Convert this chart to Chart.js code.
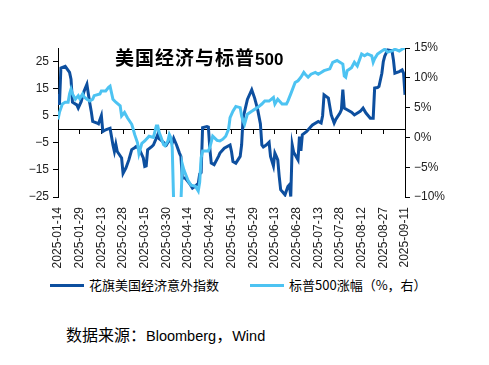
<!DOCTYPE html>
<html>
<head>
<meta charset="utf-8">
<script src="https://cdn.jsdelivr.net/npm/chart.js@4.4.1/dist/chart.umd.min.js"></script>
<style>
  body { margin: 0; background: #fff; }
  #wrap { position: relative; width: 489px; height: 365px; overflow: hidden; }
  #chart { position: absolute; left: 0; top: 0; }
  #title { position: absolute; left: 115px; top: 47px; font-weight: bold; color: #000; white-space: nowrap; line-height: 20px; }
  #title .cn { font-family: "Noto Sans CJK SC"; font-size: 19px; letter-spacing: 1px; }
  #title .num { font-family: "Liberation Sans", Arial; font-size: 17px; }
  .leg { position: absolute; top: 276px; height: 18px; white-space: nowrap; font-family: "Noto Sans CJK SC"; font-size: 13px; line-height: 18px; color: #000; }
  .leg i { display: inline-block; width: 34px; height: 3px; vertical-align: middle; margin-right: 5px; margin-top: -2px; }
  #source { position: absolute; left: 66px; top: 323px; white-space: nowrap; color: #000; line-height: 22px; }
  #source .cn { font-family: "Noto Sans CJK SC"; font-size: 16px; }
  #source .en { font-family: "Liberation Sans", Arial; font-size: 14.5px; }
</style>
</head>
<body>
<div id="wrap">
  <canvas id="chart" width="489" height="275"></canvas>
  <div id="title"><span class="cn">美国经济与标普</span><span class="num">500</span></div>
  <div class="leg" id="leg0" style="left:50px"></div>
  <div class="leg" id="leg1" style="left:250px"></div>
  <div id="source"><span class="cn">数据来源：</span><span class="en">Bloomberg</span><span class="cn">，</span><span class="en">Wind</span></div>
</div>
<script>
// days counted from 2025-01-14
const xTickLabels = ['2025-01-14', '2025-01-29', '2025-02-13', '2025-02-28', '2025-03-15', '2025-03-30',
  '2025-04-14', '2025-04-29', '2025-05-14', '2025-05-29', '2025-06-13', '2025-06-28', '2025-07-13',
  '2025-07-28', '2025-08-12', '2025-08-27', '2025-09-11'];
const leftTicks = [-25, -15, -5, 5, 15, 25];
const seriesNames = ['花旗美国经济意外指数', '标普500涨幅（%，右）'];

// 花旗美国经济意外指数 (left axis)
const citiDays = [0, 1, 2, 5, 8, 9, 10, 13, 14, 15, 16, 18, 20, 21, 22, 23, 24, 27, 28, 30, 31, 33, 36, 37,
  38, 39, 40, 41, 44, 45, 47, 49, 51, 53, 54, 56, 58, 59, 60, 61, 62, 65, 66, 68, 69, 70, 71, 73, 75, 77,
  79, 80, 82, 84, 85, 86, 88, 91, 93, 95, 97, 98, 99, 100, 103, 104, 105, 106, 108, 111, 112, 115, 119,
  120, 121, 123, 126, 127, 128, 131, 134, 136, 138, 140, 141, 142, 144, 146, 147, 149, 150, 151, 152, 153,
  154, 157, 159, 160, 161, 162, 163, 166, 167, 168, 169, 172, 175, 176, 180, 182, 183, 184, 187, 189, 191,
  192, 195, 196, 197, 198, 200, 203, 205, 209, 211, 213, 216, 218, 219, 221, 222, 224, 225, 226, 228, 231,
  232, 233, 236, 238, 239, 240];
const citiVals = [13, 9, 22.6, 23.2, 21, 18.5, 10, 9, 7.8, 9, 10.2, 14, 16.6, 13, 9.6, 6.6, 2.9, 2.3, 2.0,
  5, -0.8, -0.2, 0.4, -2.7, -5.8, -8.2, -5.5, -8.2, -10.6, -16.3, -14.3, -11.3, -7.5, -6.8, -6.4, -7, -9.4,
  -10.6, -13.7, -13.5, -7.6, -6.3, -5.8, -3.3, -2.0, -3.5, -3.9, -4.8, -5.8, -4, -5, -3.3, -5.8, -8.8, -10,
  -18, -18, -20, -21.7, -21, -20, -16.5, -16, 0.6, 1.0, 0.8, -7, -12.5, -13.1, -10, -8.8, -7, -5.8, -8.2,
  -11.9, -12.5, -10, -5.8, 4.1, 11, 14.6, 11.5, 7.5, 2, -5.8, -6.5, -5.8, -4.8, -10, -13.5, -8.8, -10,
  -11.3, -17.4, -22.3, -24.2, -21.1, -20.5, -24.8, -5.8, -8.5, -11.3, -2.7, -8, -2.0, -0.8, 1.0, 1.6, 2.9,
  2.3, 5, 12.7, 11.5, 5.3, 2.3, 3.5, 6, 7.2, 14.6, 7.8, 7.2, 6.3, 5.3, 6.6, 7.8, 6, 4.1, 4.1, 15.2, 15.4,
  15.8, 20.7, 25, 27, 29.3, 29, 25.6, 20.7, 21.3, 21.9, 20.7, 12.7];

// 标普500涨幅 (%, right axis)
const spxDays = [0, 1, 3, 5, 7, 8, 9, 10, 12, 14, 15, 17, 18, 20, 22, 24, 25, 29, 30, 33, 35, 36, 38, 40,
  43, 44, 46, 48, 51, 52, 53, 55, 56, 58, 60, 63, 66, 68, 69, 70, 71, 73, 74, 76, 77, 78, 79, 80, 81, 82,
  84, 85, 86, 87, 90, 92, 95, 97, 98, 99, 100, 104, 105, 107, 110, 112, 114, 116, 118, 119, 121, 123, 126,
  127, 128, 129, 131, 134, 136, 138, 141, 143, 146, 149, 150, 152, 155, 158, 159, 161, 164, 166, 168, 170,
  171, 173, 175, 178, 180, 182, 184, 188, 190, 193, 195, 197, 198, 199, 200, 203, 205, 207, 210, 212, 214,
  217, 218, 219, 221, 224, 226, 228, 231, 233, 236, 238, 240];
const spxVals = [3.0, 4.2, 5.6, 5.9, 5.9, 7.3, 8.1, 7.3, 6.4, 7.0, 6.5, 7.3, 6.8, 6.4, 6.1, 6.4, 7.0, 7.3,
  7.8, 7.8, 8.4, 8.6, 6.4, 5.9, 5.3, 3.6, 4.2, 3.3, 2.2, 1.4, 0.5, -0.9, -2.7, -1.0, -0.6, 0.2, 0.0, 1.9,
  1.9, 0.8, 0.2, -1.2, -1.4, -0.6, 0.5, 0.0, -1.7, -11, -13, -12, -13.5, -11, -4.5, -5.4, -7.3, -8, -8.2,
  -9.0, -7.5, -3.4, -2.3, -2.3, -1.7, 0.2, -0.5, -0.6, -0.3, 0.2, 1.4, 3.3, 4.4, 5.2, 5.0, 3.6, 2.8, 2.2,
  3.9, 4.4, 4.7, 5.0, 5.6, 6.1, 6.1, 6.7, 5.6, 6.4, 5.6, 5.6, 6.1, 7.3, 9.2, 9.5, 10.1, 10.9, 10.6, 10.1,
  10.6, 10.9, 10.6, 10.9, 11.2, 11.5, 12.6, 12.9, 12.6, 12.3, 10.3, 10.1, 11.2, 11.7, 12.6, 12.0, 14.0,
  13.7, 14.0, 13.7, 12.6, 13.2, 14.0, 14.5, 14.8, 14.3, 14.5, 14.8, 14.5, 14.8, 15.0];

const darkBlue = '#0D4F9F';
const lightBlue = '#4DC3F2';
const tickFont = { family: '"Liberation Sans", Arial', size: 12 };

function toPoints(days, vals) {
  return days.map((d, i) => ({ x: d, y: vals[i] }));
}

function minusSign(s) {
  return String(s).replace('-', '\u2212');
}

// legend (html, so it can sit right under the date labels)
[darkBlue, lightBlue].forEach((c, i) => {
  const el = document.getElementById('leg' + i);
  el.innerHTML = '<i style="background:' + c + '"></i>' + seriesNames[i];
});

const ctx = document.getElementById('chart').getContext('2d');
new Chart(ctx, {
  type: 'line',
  data: {
    datasets: [
      {
        label: seriesNames[1],
        data: toPoints(spxDays, spxVals),
        yAxisID: 'y1',
        borderColor: lightBlue,
        borderWidth: 3,
        pointRadius: 0,
        tension: 0
      },
      {
        label: seriesNames[0],
        data: toPoints(citiDays, citiVals),
        yAxisID: 'y',
        borderColor: darkBlue,
        borderWidth: 3,
        pointRadius: 0,
        tension: 0
      }
    ]
  },
  options: {
    responsive: false,
    animation: false,
    devicePixelRatio: 1,
    layout: { padding: { left: 0, right: 34, top: 48, bottom: 0 } },
    plugins: {
      tooltip: { enabled: false },
      legend: { display: false }
    },
    scales: {
      x: {
        type: 'linear',
        position: 'bottom',
        min: 0,
        max: 240,
        grid: { display: false, drawTicks: false },
        border: { display: false },
        ticks: {
          stepSize: 15,
          autoSkip: false,
          minRotation: 90,
          maxRotation: 90,
          padding: 10,
          color: '#222',
          font: tickFont,
          callback: (v, i) => xTickLabels[i]
        },
        afterFit: s => { s.height = 78; }
      },
      x0: {
        type: 'linear',
        position: { y: 0 },
        min: 0,
        max: 240,
        grid: { drawOnChartArea: false, drawTicks: true, tickLength: 4, color: '#000' },
        border: { display: true, color: '#000', width: 1 },
        ticks: { stepSize: 15, autoSkip: false, display: false }
      },
      y: {
        position: 'left',
        min: -25,
        max: 30,
        afterBuildTicks: s => { s.ticks = leftTicks.map(v => ({ value: v })); },
        grid: { drawOnChartArea: false, tickLength: 5, color: '#000' },
        border: { color: '#000', width: 1 },
        ticks: { padding: 4, color: '#222', font: tickFont, callback: v => minusSign(v) },
        afterFit: s => { s.width = 58; }
      },
      y1: {
        position: 'right',
        min: -10,
        max: 15,
        grid: { drawOnChartArea: false, tickLength: 5, color: '#000' },
        border: { color: '#000', width: 1 },
        ticks: { stepSize: 5, padding: 4, color: '#222', font: tickFont, callback: v => minusSign(v) + '%' },
        afterFit: s => { s.width = 50; }
      }
    }
  }
});
</script>
</body>
</html>
